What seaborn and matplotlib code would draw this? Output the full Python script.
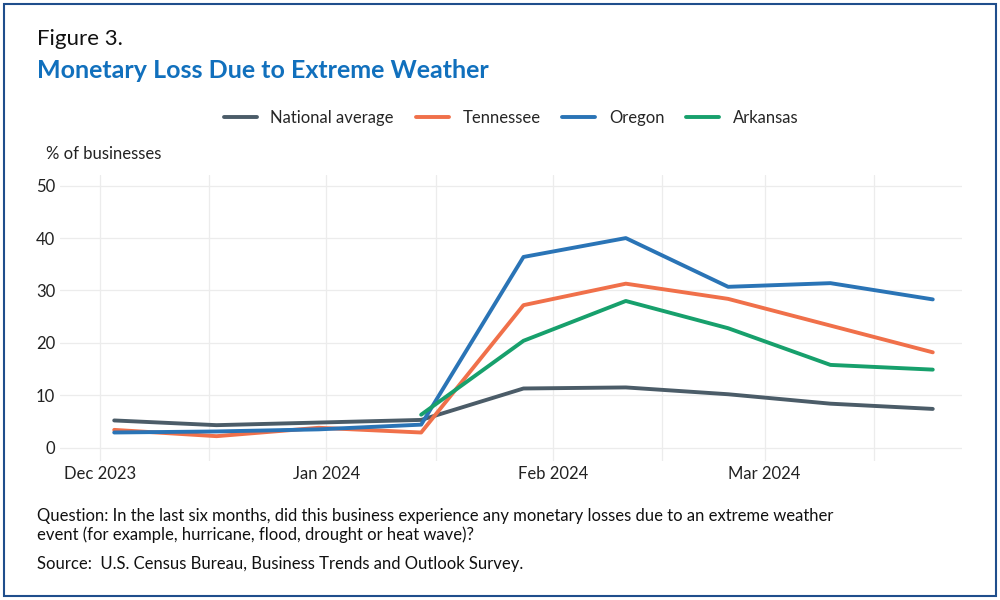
import matplotlib.pyplot as plt
import matplotlib.dates as mdates
import seaborn as sns
import pandas as pd
import numpy as np

dates = pd.to_datetime(['2023-12-03', '2023-12-17', '2023-12-31', '2024-01-14', '2024-01-28',
                        '2024-02-11', '2024-02-25', '2024-03-10', '2024-03-24'])
national = [5.2, 4.3, 4.8, 5.3, 11.3, 11.5, 10.2, 8.4, 7.4]
tennessee = [3.4, 2.2, 3.8, 2.9, 27.2, 31.3, 28.4, 23.3, 18.2]
oregon = [2.9, 3.1, 3.5, 4.4, 36.4, 40.0, 30.7, 31.4, 28.3]
arkansas = [np.nan, np.nan, np.nan, 6.3, 20.4, 28.0, 22.8, 15.8, 14.9]

series = {'National average': national, 'Tennessee': tennessee, 'Oregon': oregon, 'Arkansas': arkansas}
colors = {'National average': '#4b5c68', 'Tennessee': '#f0704a', 'Oregon': '#2a74b6', 'Arkansas': '#17a06c'}

df = pd.DataFrame([(d, k, v) for k, vals in series.items() for d, v in zip(dates, vals)],
                  columns=['date', 'series', 'value'])

sns.set_theme(style='white')
plt.rcParams['font.family'] = ['Lato', 'DejaVu Sans']

fig = plt.figure(figsize=(10, 6), dpi=100)
ax = fig.add_axes([0.06, 0.232, 0.902, 0.476])

for name in series:
    sub = df[df['series'] == name]
    sns.lineplot(data=sub, x='date', y='value', ax=ax, color=colors[name], linewidth=2.8, label=name)

ax.set_ylim(-2.5, 52)
ax.set_yticks(range(0, 51, 10))
ax.set_xlim(pd.Timestamp('2023-11-25 14:00'), pd.Timestamp('2024-03-28'))
ax.xaxis.set_major_locator(mdates.MonthLocator())
ax.xaxis.set_major_formatter(mdates.DateFormatter('%b %Y'))
ax.xaxis.set_minor_locator(mdates.DayLocator(bymonthday=16))
ax.grid(True, which='both', color='#ececec', linewidth=0.9)
ax.set_xlabel('')
ax.set_ylabel('')
ax.tick_params(labelsize=12, colors='#222222', length=0)
for s in ax.spines.values():
    s.set_visible(False)

ax.legend(loc='lower center', bbox_to_anchor=(0.5, 1.12), ncol=4, frameon=False,
          fontsize=12, handlelength=2, columnspacing=1.3)

fig.text(0.037, 0.925, 'Figure 3.', fontsize=16, color='#111111')
fig.text(0.037, 0.87, 'Monetary Loss Due to Extreme Weather', fontsize=18, fontweight='bold', color='#1170bd')
fig.text(0.046, 0.735, '% of businesses', fontsize=12, color='#222222')
fig.text(0.037, 0.1, 'Question: In the last six months, did this business experience any monetary losses due to an extreme weather\n'
         'event (for example, hurricane, flood, drought or heat wave)?', fontsize=12, color='#111111', linespacing=1.2)
fig.text(0.037, 0.052, 'Source:  U.S. Census Bureau, Business Trends and Outlook Survey.', fontsize=12, color='#111111')

fig.add_artist(plt.Rectangle((0.004, 0.006), 0.992, 0.988, transform=fig.transFigure,
                             fill=False, edgecolor='#1f4e8c', linewidth=1.5))

fig.savefig('out.png', dpi=100)
